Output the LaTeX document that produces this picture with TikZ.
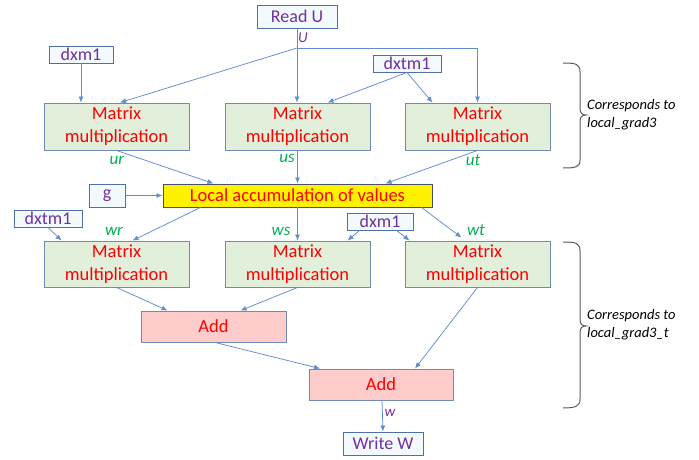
\documentclass[tikz,border=0pt]{standalone}
\usepackage{fontspec}
\setmainfont{Carlito}
\usetikzlibrary{calc,arrows.meta}
\definecolor{arr}{RGB}{95,140,210}
\definecolor{mbord}{RGB}{115,138,178}
\definecolor{sbord}{RGB}{80,112,165}
\definecolor{mfill}{RGB}{226,239,218}
\definecolor{sfill}{RGB}{242,250,254}
\definecolor{afill}{RGB}{255,204,204}
\definecolor{ptext}{RGB}{112,48,160}
\definecolor{gtext}{RGB}{0,176,80}
\definecolor{lbord}{RGB}{70,80,110}
\definecolor{brc}{RGB}{90,90,90}
\begin{document}
\begin{tikzpicture}[x=1pt,y=-1pt,
  mm/.style={draw=mbord, line width=0.9pt, fill=mfill, text=red, minimum width=145pt, minimum height=47pt, inner sep=0pt, align=center, font=\fontsize{18.5}{23}\selectfont},
  addbox/.style={draw=mbord, line width=0.9pt, fill=afill, text=red, minimum width=145pt, minimum height=31pt, inner sep=0pt, font=\fontsize{18.5}{23}\selectfont},
  smallbox/.style={draw=sbord, line width=0.9pt, fill=sfill, text=ptext, inner sep=0pt, font=\fontsize{18}{22}\selectfont},
  lbl/.style={text=gtext, font=\fontsize{17}{20}\selectfont\itshape, inner sep=0pt},
  plbl/.style={text=ptext, font=\fontsize{15}{18}\selectfont\itshape, inner sep=0pt},
  conn/.style={draw=arr, line width=0.75pt, -{Latex[length=6pt,width=5pt]}},
  plain/.style={draw=arr, line width=0.75pt},
  brtext/.style={font=\fontsize{14.5}{18}\selectfont\itshape, align=left, inner sep=0pt, anchor=west},
  brline/.style={draw=brc, line width=1pt}
]
\useasboundingbox (0,0) rectangle (699,460);

% nodes
\node[smallbox, minimum width=80pt, minimum height=23pt] (readu) at (297,16.5) {Read U};
\node[smallbox, minimum width=64pt, minimum height=17pt] (dxmA) at (81,54.5) {dxm1};
\node[smallbox, minimum width=68pt, minimum height=17pt] (dxtmA) at (407,63.5) {dxtm1};
\node[mm] (M1) at (116.5,126.5) {Matrix\\multiplication};
\node[mm] (M2) at (297.5,126.5) {Matrix\\multiplication};
\node[mm] (M3) at (477.5,126.5) {Matrix\\multiplication};
\node[smallbox, minimum width=36pt, minimum height=23pt] (g) at (107,195.5) {g};
\node[draw=lbord, line width=0.9pt, fill=yellow, text=red, minimum width=269pt, minimum height=23pt, inner sep=0pt, font=\fontsize{18.5}{23}\selectfont] (loc) at (297.5,195.5) {Local accumulation of values};
\node[smallbox, minimum width=68pt, minimum height=17pt] (dxtmB) at (48,218.5) {dxtm1};
\node[smallbox, minimum width=66pt, minimum height=17pt] (dxmB) at (380,221.5) {dxm1};
\node[mm, minimum height=46pt] (M4) at (116.5,264) {Matrix\\multiplication};
\node[mm, minimum height=46pt] (M5) at (297.5,264) {Matrix\\multiplication};
\node[mm, minimum height=46pt] (M6) at (477.5,264) {Matrix\\multiplication};
\node[addbox] (add1) at (213.5,326.5) {Add};
\node[addbox, minimum width=144pt] (add2) at (381,384.5) {Add};
\node[smallbox, minimum width=80pt, minimum height=23pt] (writew) at (383,443.5) {Write W};

% labels
\node[plbl] (lU) at (303,38) {U};
\node[lbl] (lur) at (117,160) {ur};
\node[lbl] (lus) at (287,158) {us};
\node[lbl] (lut) at (473,160) {ut};
\node[lbl] (lwr) at (114,231) {wr};
\node[lbl] (lws) at (281,231) {ws};
\node[lbl] (lwt) at (476,230) {wt};
\node[plbl] (lw) at (390,413) {w};

% connectors
\coordinate (uj) at (297,48);
\draw[plain] (readu.south) -- (uj);
\draw[conn] (uj) -- ($(M1.north)+(3.5,0)$);
\draw[conn] (uj) -- (uj |- M2.north);
\draw[conn] (uj) -| (M3.north);
\draw[conn] (dxmA.south) -- (dxmA.south |- M1.north);
\draw[conn] (dxtmA.south) -- ($(M2.north)+(30,0)$);
\draw[conn] (dxtmA.south) -- ($(M3.north)+(-45,0)$);
\draw[conn] (M1.south) -- ($(loc.north)+(-84,0)$);
\draw[conn] (M2.south) -- (M2.south |- loc.north);
\draw[conn] (M3.south) -- ($(loc.north)+(88,0)$);
\draw[conn] (g.east) -- (loc.west);
\draw[conn] ($(loc.south)+(-97,0)$) -- ($(M4.north)+(16,0)$);
\draw[conn] (loc.south) -- (loc.south |- M5.north);
\draw[conn] ($(loc.south)+(124,0)$) -- ($(M6.north)+(-16,-3)$);
\draw[conn] (dxtmB.south) -- ($(M4.north west)+(18,0)$);
\draw[conn] ($(dxmB.south west)+(13,0)$) -- ($(M5.north east)+(-23,0)$);
\draw[conn] ($(dxmB.south east)+(-17,0)$) -- ($(M6.north west)+(5,0)$);
\draw[conn] (M4.south) -- ($(add1.north)+(-46,0)$);
\draw[conn] (M5.south) -- ($(add1.north)+(27,0)$);
\draw[conn] ($(add1.south)+(1.5,0)$) -- ($(add2.north)+(-61,0)$);
\draw[conn] (M6.south) -- ($(add2.north)+(34,0)$);
\draw[conn] ($(add2.south)+(1,0)$) -- ($(writew.north)+(0,0)$);

% braces
\draw[brline] (563,63) .. controls (576,63) and (580,64) .. (580,72) -- (580,108)
  .. controls (580,113) and (582,115) .. (586,115)
  .. controls (582,115) and (580,117) .. (580,122) -- (580,160)
  .. controls (580,167) and (576,168) .. (563,168);
\node[brtext] (t1) at (587,115) {Corresponds to\\local\_grad3};
\draw[brline] (563,242) .. controls (576,242) and (580,243) .. (580,251) -- (580,319)
  .. controls (580,324) and (582,326) .. (586,326)
  .. controls (582,326) and (580,328) .. (580,333) -- (580,399)
  .. controls (580,406) and (576,408) .. (563,408);
\node[brtext] (t2) at (587,325) {Corresponds to\\local\_grad3\_t};
\end{tikzpicture}
\end{document}
